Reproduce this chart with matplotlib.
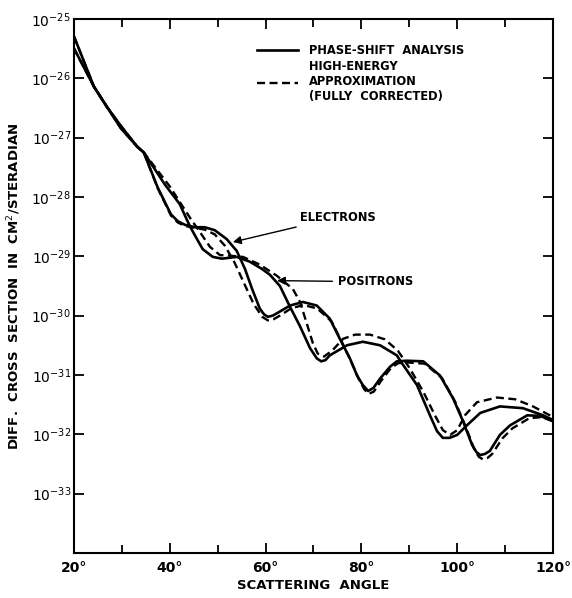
import numpy as np
import matplotlib
matplotlib.use("Agg")
import matplotlib.pyplot as plt
from matplotlib.lines import Line2D
from matplotlib.ticker import FixedLocator, FuncFormatter, NullLocator

plt.rcParams['font.family'] = ['DejaVu Sans']

# scattering angle (deg) and log10 of the cross section (cm^2/sr)
e_solid_deg = [20, 24.2, 26.9, 29.8, 33.2, 34.6, 37.5, 40.25, 41.7, 43.2, 45.3, 47.3, 49.4, 51.9,
               54.0, 55.7, 57.2, 58.8, 59.7, 60.5, 61.5, 62.6, 65.1, 67.8, 70.7, 73.4, 75.5, 77.6,
               79.1, 80.3, 81.4, 82.5, 83.9, 86.0, 87.4, 89.5, 92.9, 96.4, 99.1, 101.2, 103.1,
               104.0, 104.8, 105.8, 106.8, 108.9, 111.0, 114.6, 117.3, 120]
e_solid_log = [-25.285, -26.14, -26.48, -26.80, -27.15, -27.25, -27.84, -28.29, -28.41, -28.47,
               -28.51, -28.51, -28.56, -28.71, -28.91, -29.21, -29.55, -29.88, -29.98, -30.02,
               -30.00, -29.95, -29.83, -29.77, -29.83, -30.05, -30.39, -30.72, -31.01, -31.17,
               -31.27, -31.22, -31.06, -30.86, -30.77, -30.76, -30.77, -31.01, -31.39, -31.78,
               -32.18, -32.30, -32.35, -32.33, -32.28, -32.01, -31.85, -31.68, -31.69, -31.78]

e_dash_deg = [20, 24.2, 26.9, 29.8, 33.2, 34.6, 37.5, 40.25, 41.7, 43.2, 45.3, 47.3, 49.4, 51.5,
              53.5, 55.5, 57.5, 59.3, 60.5, 61.7, 63.0, 65.3, 67.9, 70.8, 73.8, 75.9, 77.9, 79.4,
              80.6, 81.5, 82.6, 84.1, 86.2, 87.7, 89.8, 93.2, 96.8, 99.5, 101.6, 103.5, 104.5,
              105.3, 106.3, 107.3, 109.4, 111.5, 115.0, 117.6, 120]
e_dash_log = [-25.285, -26.14, -26.48, -26.80, -27.15, -27.25, -27.85, -28.31, -28.43, -28.49,
              -28.52, -28.55, -28.63, -28.82, -29.10, -29.45, -29.80, -30.02, -30.08, -30.06,
              -30.00, -29.88, -29.82, -29.88, -30.10, -30.44, -30.78, -31.06, -31.24, -31.32,
              -31.28, -31.10, -30.88, -30.80, -30.79, -30.81, -31.05, -31.44, -31.84, -32.24,
              -32.38, -32.42, -32.40, -32.33, -32.07, -31.90, -31.73, -31.71, -31.78]

p_solid_deg = [20, 24.2, 26.9, 29.8, 33.2, 34.6, 39.0, 42.1, 44.2, 45.7, 46.9, 49.0, 50.9, 54.0,
               56.7, 59.2, 60.9, 63.0, 65.1, 67.2, 69.3, 70.7, 71.6, 72.5, 73.4, 77.0, 80.3, 83.9,
               87.4, 88.1, 91.6, 94.3, 95.8, 97.0, 98.4, 100.0, 102.0, 104.8, 108.9, 113.7,
               117.9, 120]
p_solid_log = [-25.49, -26.14, -26.48, -26.84, -27.15, -27.25, -27.79, -28.12, -28.49, -28.71,
               -28.88, -29.01, -29.04, -29.01, -29.09, -29.21, -29.31, -29.50, -29.85, -30.18,
               -30.55, -30.72, -30.77, -30.75, -30.67, -30.50, -30.44, -30.50, -30.67, -30.76,
               -31.17, -31.68, -31.95, -32.06, -32.06, -32.01, -31.85, -31.64, -31.53, -31.56,
               -31.68, -31.76]

p_dash_deg = [20, 24.2, 26.9, 29.8, 33.2, 34.6, 40.0, 44.4, 46.3, 48.4, 50.5, 52.6, 55.3, 58.8,
              62.4, 65.7, 67.2, 68.6, 69.9, 70.9, 72.2, 73.9, 76.2, 78.7, 81.8, 84.9, 87.6, 90.1,
              92.9, 95.4, 97.0, 98.5, 100.0, 101.6, 104.1, 108.3, 112.1, 115.8, 120]
p_dash_log = [-25.49, -26.14, -26.48, -26.84, -27.15, -27.25, -27.82, -28.37, -28.59, -28.84,
              -28.98, -28.99, -29.01, -29.14, -29.33, -29.55, -29.77, -30.13, -30.47, -30.64,
              -30.69, -30.59, -30.39, -30.32, -30.32, -30.40, -30.59, -30.89, -31.28, -31.69,
              -31.93, -32.01, -31.93, -31.68, -31.46, -31.38, -31.41, -31.53, -31.71]

x_major = [20, 40, 60, 80, 100, 120]
x_minor = [30, 50, 70, 90, 110]
y_decades = [-33, -32, -31, -30, -29, -28, -27, -26, -25]

LW = 1.9
DLW = 1.7
DASH = (0, (3.4, 1.9))

fig = plt.figure(figsize=(5.72, 5.98), dpi=100)
ax = fig.add_axes([0.129, 0.0753, 0.838, 0.893])

ax.semilogy(e_solid_deg, 10.0 ** np.array(e_solid_log), color='black', lw=LW)
ax.semilogy(p_solid_deg, 10.0 ** np.array(p_solid_log), color='black', lw=LW)
ax.semilogy(e_dash_deg, 10.0 ** np.array(e_dash_log), color='black', lw=DLW, linestyle=DASH)
ax.semilogy(p_dash_deg, 10.0 ** np.array(p_dash_log), color='black', lw=DLW, linestyle=DASH)

ax.set_xlim(20, 120)
ax.set_ylim(1e-34, 1e-25)

ax.xaxis.set_major_locator(FixedLocator(x_major))
ax.xaxis.set_minor_locator(FixedLocator(x_minor))
ax.xaxis.set_major_formatter(FuncFormatter(lambda v, p: '%d\u00b0' % v))
ax.yaxis.set_major_locator(FixedLocator([10.0 ** d for d in y_decades]))
ax.yaxis.set_minor_locator(NullLocator())
ax.yaxis.set_major_formatter(FuncFormatter(lambda v, p: r'$10^{%d}$' % round(np.log10(v))))

ax.tick_params(which='both', direction='in', top=True, right=True, width=1.3, colors='black')
ax.tick_params(which='major', length=7, labelsize=10)
ax.tick_params(axis='y', pad=2)
ax.tick_params(axis='x', pad=6)
ax.tick_params(which='minor', length=6)
for lab in ax.get_xticklabels():
    lab.set_fontweight('bold')
for s in ax.spines.values():
    s.set_linewidth(1.5)

ax.set_xlabel('SCATTERING  ANGLE', fontsize=9.5, fontweight='bold', labelpad=3)
ax.set_ylabel('DIFF.  CROSS  SECTION  IN  CM$^2$/STERADIAN', fontsize=9.5, fontweight='bold',
              labelpad=6)

handles = [Line2D([], [], color='black', lw=LW),
           Line2D([], [], color='black', lw=DLW, linestyle=DASH)]
labels = ['PHASE-SHIFT  ANALYSIS', 'HIGH-ENERGY\nAPPROXIMATION\n(FULLY  CORRECTED)']
leg = ax.legend(handles, labels, loc='upper left', bbox_to_anchor=(0.36, 0.972), frameon=False,
                handlelength=3.6, handletextpad=0.9, labelspacing=0.25,
                prop={'size': 8.3, 'weight': 'bold'})

ax.annotate('ELECTRONS', xy=(53.2, 10 ** -28.76), xytext=(67.2, 10 ** -28.34),
            fontsize=8.3, fontweight='bold', va='center', ha='left',
            arrowprops=dict(arrowstyle='-|>', color='black', lw=1.0, shrinkA=2, shrinkB=0,
                            mutation_scale=12))
ax.annotate('POSITRONS', xy=(62.4, 10 ** -29.41), xytext=(75.1, 10 ** -29.43),
            fontsize=8.3, fontweight='bold', va='center', ha='left',
            arrowprops=dict(arrowstyle='-|>', color='black', lw=1.0, shrinkA=2, shrinkB=0,
                            mutation_scale=12))

fig.savefig('out.png', dpi=100)
